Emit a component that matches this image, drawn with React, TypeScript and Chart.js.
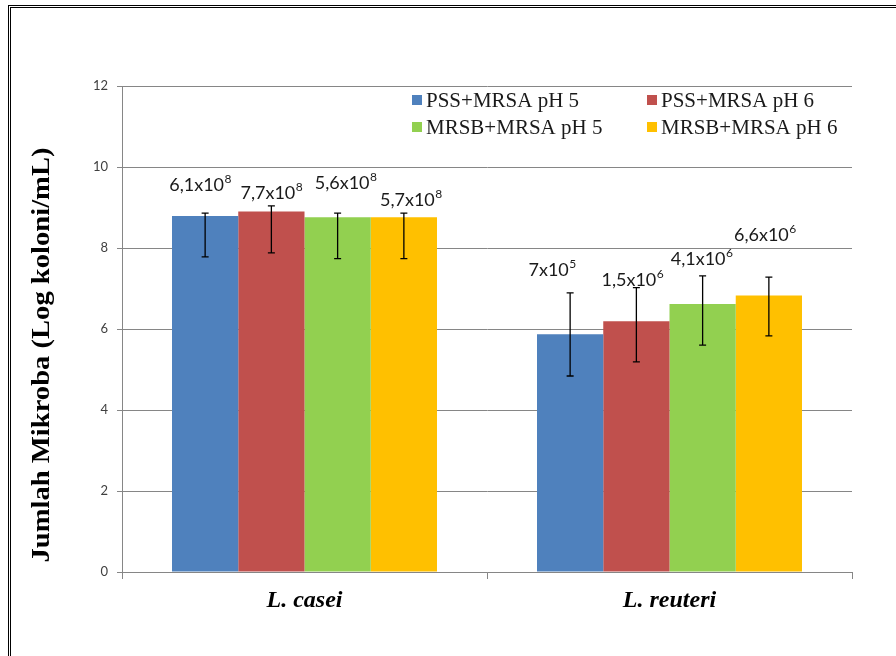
import React, { useEffect, useRef } from "react";
import { Chart, registerables } from "chart.js";

Chart.register(...registerables);

const categories = ["L. casei", "L. reuteri"];
const seriesNames = ["PSS+MRSA pH 5", "PSS+MRSA pH 6", "MRSB+MRSA pH 5", "MRSB+MRSA pH 6"];
const seriesColors = ["#4F81BD", "#C0504D", "#92D050", "#FFC000"];

// bar heights (log colonies/mL)
const pssPh5 = [8.79, 5.87];
const pssPh6 = [8.9, 6.19];
const mrsbPh5 = [8.76, 6.62];
const mrsbPh6 = [8.76, 6.83];

// error bar ends (upper / lower)
const pssPh5Upper = [8.86, 6.89];
const pssPh5Lower = [7.78, 4.84];
const pssPh6Upper = [9.04, 7.02];
const pssPh6Lower = [7.88, 5.19];
const mrsbPh5Upper = [8.86, 7.31];
const mrsbPh5Lower = [7.74, 5.6];
const mrsbPh6Upper = [8.86, 7.28];
const mrsbPh6Lower = [7.74, 5.83];

// colony count labels
const pssPh5Counts = ["6,1x10^8", "7x10^5"];
const pssPh6Counts = ["7,7x10^8", "1,5x10^6"];
const mrsbPh5Counts = ["5,6x10^8", "4,1x10^6"];
const mrsbPh6Counts = ["5,7x10^8", "6,6x10^6"];

const yTicks = [0, 2, 4, 6, 8, 10, 12];
const yTitle = "Jumlah Mikroba (Log koloni/mL)";

// label placement offsets (px) relative to bar centre / error-bar top: [series][category]
const labelOffsets = [
  [[-5, -28], [-18, -23]],
  [[0, -13], [-4, -8]],
  [[8, -30], [-1, -17]],
  [[7, -13], [-4, -42]],
];

const GRID = "#868686";

function drawSup(ctx: CanvasRenderingContext2D, text: string, cx: number, cy: number) {
  const [base, exp] = text.split("^");
  ctx.font = '18px Lato';
  const bw = ctx.measureText(base).width;
  ctx.font = '12px Lato';
  const ew = ctx.measureText(exp || "").width;
  const start = cx - (bw + ew) / 2;
  ctx.fillStyle = "#1a1a1a";
  ctx.textAlign = "left";
  ctx.font = '18px Lato';
  ctx.textBaseline = "middle";
  ctx.fillText(base, start, cy);
  ctx.font = '12px Lato';
  ctx.textBaseline = "alphabetic";
  ctx.fillText(exp || "", start + bw + 0.5, cy - 2);
}

const overlayPlugin = {
  id: "overlay",
  afterDatasetsDraw(chart: any) {
    const ctx: CanvasRenderingContext2D = chart.ctx;
    const ys = chart.scales.y;
    chart.data.datasets.forEach((ds: any, di: number) => {
      const meta = chart.getDatasetMeta(di);
      meta.data.forEach((bar: any, i: number) => {
        const x = bar.x;
        const yt = ys.getPixelForValue(ds.errUpper[i]);
        const yb = ys.getPixelForValue(ds.errLower[i]);
        ctx.save();
        ctx.strokeStyle = "#000";
        ctx.lineWidth = 1.3;
        ctx.beginPath();
        ctx.moveTo(x, yt);
        ctx.lineTo(x, yb);
        ctx.moveTo(x - 3.5, yt);
        ctx.lineTo(x + 3.5, yt);
        ctx.moveTo(x - 3.5, yb);
        ctx.lineTo(x + 3.5, yb);
        ctx.stroke();
        const [dx, dy] = labelOffsets[di][i];
        drawSup(ctx, ds.counts[i], x + dx, yt + dy);
        ctx.restore();
      });
    });
  },
  afterDraw(chart: any) {
    const ctx: CanvasRenderingContext2D = chart.ctx;
    // legend
    const colX = [412, 647];
    const rowY = [100, 127];
    ctx.save();
    chart.data.datasets.forEach((ds: any, di: number) => {
      const cx = colX[di % 2];
      const cy = rowY[Math.floor(di / 2)];
      ctx.fillStyle = ds.backgroundColor;
      ctx.fillRect(cx, cy - 5, 10, 10);
      ctx.fillStyle = "#1a1a1a";
      ctx.font = '21px "Liberation Serif"';
      ctx.textAlign = "left";
      ctx.textBaseline = "alphabetic";
      ctx.fillText(ds.label, cx + 14, cy + 6.5);
    });
    ctx.restore();
    // y title
    ctx.save();
    ctx.translate(42, 355);
    ctx.rotate(-Math.PI / 2);
    ctx.scale(1.1, 1);
    ctx.font = 'bold 26px "Liberation Serif"';
    ctx.fillStyle = "#000";
    ctx.textAlign = "center";
    ctx.textBaseline = "middle";
    ctx.fillText(yTitle, 0, 0);
    ctx.restore();
  },
};

export default function App() {
  const ref = useRef<HTMLCanvasElement>(null);
  useEffect(() => {
    if (!ref.current) return;
    const mk = (i: number, data: number[], up: number[], lo: number[], counts: string[]) => ({
      label: seriesNames[i],
      data,
      backgroundColor: seriesColors[i],
      borderWidth: 0,
      errUpper: up,
      errLower: lo,
      counts,
      categoryPercentage: 0.726,
      barPercentage: 1.0,
    });
    const chart = new Chart(ref.current, {
      type: "bar",
      data: {
        labels: categories,
        datasets: [
          mk(0, pssPh5, pssPh5Upper, pssPh5Lower, pssPh5Counts),
          mk(1, pssPh6, pssPh6Upper, pssPh6Lower, pssPh6Counts),
          mk(2, mrsbPh5, mrsbPh5Upper, mrsbPh5Lower, mrsbPh5Counts),
          mk(3, mrsbPh6, mrsbPh6Upper, mrsbPh6Lower, mrsbPh6Counts),
        ] as any,
      },
      options: {
        responsive: false,
        animation: false,
        layout: { padding: { left: 0, right: 44, top: 86, bottom: 0 } },
        plugins: { legend: { display: false }, tooltip: { enabled: false } },
        scales: {
          x: {
            offset: true,
            grid: { display: true, drawOnChartArea: false, drawTicks: true, tickLength: 7, offset: true, color: GRID },
            border: { color: GRID },
            ticks: {
              color: "#000",
              padding: 7,
              font: { family: '"Liberation Serif"', size: 24, style: "italic", weight: "bold" },
            },
            afterFit(scale: any) {
              scale.height = 84;
            },
          },
          y: {
            min: 0,
            max: 12,
            afterBuildTicks(scale: any) {
              scale.ticks = yTicks.map((v) => ({ value: v }));
            },
            grid: { color: GRID, tickLength: 5, lineWidth: 1 },
            border: { color: GRID },
            ticks: {
              color: "#404040",
              padding: 9,
              font: { family: "Lato", size: 13 },
            },
            afterFit(scale: any) {
              scale.width = 122;
            },
          },
        },
      },
      plugins: [overlayPlugin],
    });
    return () => chart.destroy();
  }, []);
  return (
    <div style={{ position: "fixed", left: 0, top: 0, width: 896, height: 656, overflow: "hidden", background: "#fff" }}>
      <div
        style={{
          position: "absolute",
          left: 8,
          top: 5,
          width: 2000,
          height: 2000,
          borderLeft: "3px double #000",
          borderTop: "3px double #000",
        }}
      />
      <canvas
        ref={ref}
        width={896}
        height={656}
        style={{ position: "absolute", left: 0, top: 0, width: 896, height: 656 }}
      />
    </div>
  );
}
